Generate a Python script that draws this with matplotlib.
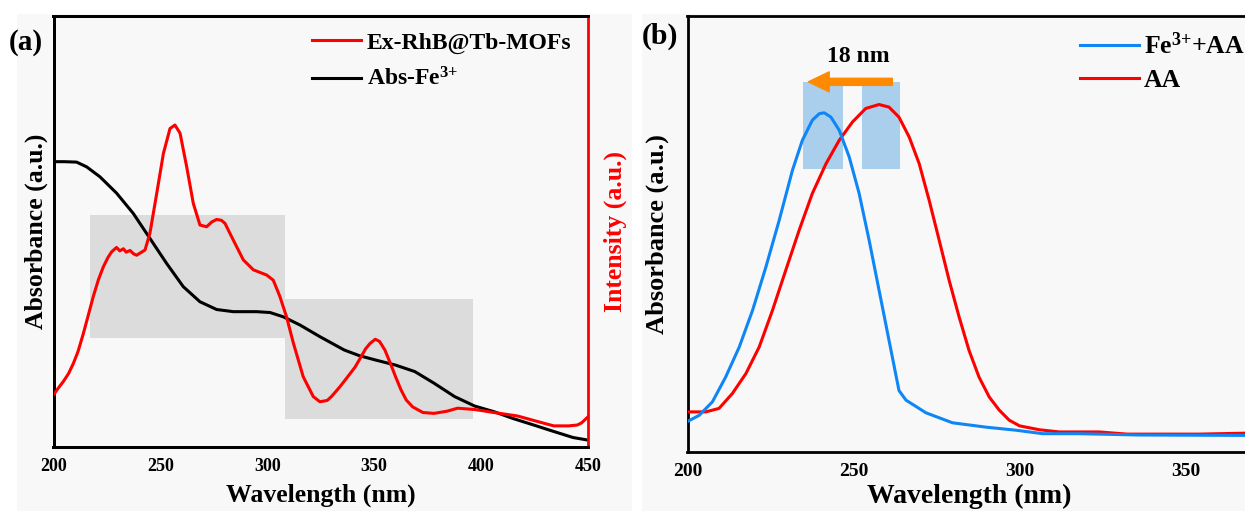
import matplotlib
matplotlib.use('Agg')
import matplotlib.pyplot as plt
from matplotlib.patches import Rectangle

plt.rcParams.update({
    'font.family': ['Liberation Serif', 'DejaVu Serif'],
    'font.weight': 'bold',
    'axes.labelweight': 'bold',
    'mathtext.fontset': 'custom',
    'mathtext.rm': 'Liberation Serif:bold',
    'mathtext.it': 'Liberation Serif:bold',
    'mathtext.bf': 'Liberation Serif:bold',
    'mathtext.default': 'rm',
})

# ---------------- data: panel (a) ----------------
abs_fe_wl = [200, 205, 210.8, 215.5, 221.7, 229.5, 237.3, 245.1, 252.9, 260.7, 268.5, 276.3,
             284.1, 295, 301.3, 307.5, 315.3, 324.6, 336, 343, 350.5, 360, 369, 378, 387.6,
             397, 406, 415, 424.6, 434, 443, 450]
abs_fe_val = [0.662, 0.662, 0.661, 0.650, 0.627, 0.589, 0.542, 0.484, 0.426, 0.372, 0.337,
              0.319, 0.314, 0.314, 0.312, 0.302, 0.283, 0.256, 0.225, 0.212, 0.202, 0.190,
              0.175, 0.148, 0.117, 0.095, 0.082, 0.066, 0.051, 0.036, 0.022, 0.016]

ex_wl = [200, 202, 204.6, 207, 209.3, 211.5, 214, 216.5, 218.6, 221, 223.3, 225.5, 227.2,
         229.5, 231, 232.7, 234, 235.8, 237.5, 238.9, 240.5, 242.8, 245.1, 248.3, 251.4, 254.5,
         256.8, 259.2, 262.3, 265.4, 268.5, 271.6, 274, 276.3, 278.5, 280.2, 284.1, 288.8,
         293.5, 299.7, 302.8, 305.9, 309, 312.2, 316.8, 321.5, 324.6, 328, 330, 334, 337.6,
         341, 343, 346, 348, 350.5, 352.5, 355, 357.5, 360, 362.5, 365, 368, 372.8, 378, 384,
         389, 397, 406, 417, 426.5, 434, 441, 445, 447, 450]
ex_val = [0.121, 0.135, 0.152, 0.170, 0.194, 0.222, 0.264, 0.310, 0.349, 0.388, 0.418, 0.440,
          0.453, 0.463, 0.455, 0.460, 0.452, 0.456, 0.448, 0.445, 0.450, 0.457, 0.496, 0.589,
          0.681, 0.739, 0.747, 0.728, 0.650, 0.565, 0.515, 0.511, 0.522, 0.528, 0.526, 0.519,
          0.480, 0.434, 0.411, 0.399, 0.387, 0.349, 0.302, 0.241, 0.163, 0.117, 0.105, 0.108,
          0.117, 0.140, 0.163, 0.185, 0.202, 0.228, 0.240, 0.250, 0.245, 0.225, 0.195, 0.163,
          0.133, 0.109, 0.093, 0.080, 0.078, 0.083, 0.090, 0.087, 0.080, 0.072, 0.059, 0.049,
          0.049, 0.051, 0.056, 0.070]

# ---------------- data: panel (b) ----------------
fe_aa_wl = [200, 203.5, 207.5, 211.5, 215.6, 219.6, 223.6, 227.6, 231.6, 234.6, 237.6, 239.7,
            241.2, 243.2, 245.7, 248.7, 251.7, 254.7, 257.7, 260.7, 263.7, 265.8, 271.8, 279.8,
            289.9, 298.9, 307, 318, 336, 370]
fe_aa_val = [0.070, 0.084, 0.115, 0.172, 0.241, 0.325, 0.424, 0.531, 0.646, 0.715, 0.761,
             0.776, 0.778, 0.768, 0.738, 0.677, 0.593, 0.486, 0.371, 0.256, 0.141, 0.119,
             0.090, 0.067, 0.057, 0.050, 0.042, 0.042, 0.039, 0.038]

aa_wl = [200, 205.5, 209.5, 213.5, 217.6, 221.6, 225.6, 229.6, 233.6, 237.6, 241.7, 245.7,
         249.7, 253.7, 257.7, 260.7, 263.7, 266.8, 269.8, 272.8, 275.8, 278.8, 281.8, 284.8,
         287.8, 290.9, 293.9, 296.9, 300, 306, 312, 324, 332.5, 354, 370]
aa_val = [0.092, 0.092, 0.100, 0.134, 0.180, 0.241, 0.325, 0.417, 0.508, 0.593, 0.661, 0.715,
          0.757, 0.788, 0.797, 0.791, 0.768, 0.722, 0.661, 0.577, 0.486, 0.394, 0.310, 0.233,
          0.172, 0.126, 0.096, 0.073, 0.060, 0.051, 0.046, 0.046, 0.041, 0.041, 0.0435]

xticks_a = [200, 250, 300, 350, 400, 450]
xticks_b = [200, 250, 300, 350]

# highlight regions (wavelength start, end, y bottom, y top)
regions_a = [(217.2, 308.5, 0.254, 0.538), (308.5, 396.1, 0.064, 0.343)]
regions_b = [(234.9, 246.7, 0.649, 0.849), (252.7, 264.1, 0.649, 0.849)]
shift_from, shift_to = 261.7, 236.4

RED = '#ff0000'
BLUE = '#0f86f5'
ORANGE = '#ff8a00'
LIGHTBLUE = '#a9cfec'
GRAY = '#dcdcdc'
BG = '#f8f8f8'

W, H = 1245, 511
fig = plt.figure(figsize=(W / 100, H / 100), dpi=100)
fig.patch.set_facecolor('white')


def fig_rect(x0, y0, x1, y1):
    return (x0 / W, 1 - y1 / H), (x1 - x0) / W, (y1 - y0) / H


for (x0, y0, x1, y1) in [(16.7, 14, 631.7, 511), (641.7, 14, 1245, 511)]:
    xy, w, h = fig_rect(x0, y0, x1, y1)
    fig.add_artist(Rectangle(xy, w, h, transform=fig.transFigure, facecolor=BG,
                             edgecolor='none', zorder=-10))

LW = 2.2
SPW = 2.0

# ---------------- panel (a) ----------------
ax = fig.add_axes([53.5 / W, (H - 447) / H, 534.5 / W, 431 / H])
ax.set_facecolor('none')
for (x0, x1, y0, y1) in regions_a:
    ax.add_patch(Rectangle((x0, y0), x1 - x0, y1 - y0, facecolor=GRAY, edgecolor='none', zorder=0))
ax.plot(abs_fe_wl, abs_fe_val, color='black', lw=LW, zorder=3)
ax.set_xlim(200, 450)
ax.set_ylim(0, 1)
ax.set_xticks(xticks_a)
ax.set_yticks([])
ax.tick_params(axis='x', length=0, pad=8, labelsize=13)
for s in ax.spines.values():
    s.set_linewidth(SPW)
ax.spines['right'].set_visible(False)
ax.set_xlabel('Wavelength (nm)', fontsize=18.5)
ax.xaxis.set_label_coords(0.5, -0.085)
ax.set_ylabel('Absorbance (a.u.)', fontsize=18.5)
ax.yaxis.set_label_coords(-0.010, 0.5)

ax2 = ax.twinx()
ax2.plot(ex_wl, ex_val, color=RED, lw=LW, zorder=3)
ax2.set_ylim(0, 1)
ax2.set_yticks([])
for s in ax2.spines.values():
    s.set_linewidth(SPW)
ax2.spines['right'].set_color(RED)
ax2.set_ylabel('Intensity (a.u.)', fontsize=18.5, color=RED)
ax2.yaxis.set_label_coords(1.03, 0.5)

la = ax.plot([], [], color=RED, lw=LW, label='Ex-RhB@Tb-MOFs')[0]
lb = ax.plot([], [], color='black', lw=LW, label='Abs-Fe$^{3{+}}$')[0]
ax2.legend(handles=[la, lb], loc='upper left', bbox_to_anchor=(0.484, 0.963),
           frameon=False, fontsize=17, handlelength=2.05, handletextpad=0.25,
           labelspacing=0.6, borderpad=0, borderaxespad=0)
fig.text(9 / W, 1 - 42 / H, '(a)', fontsize=21, fontweight='bold', va='center', ha='left')

# ---------------- panel (b) ----------------
bx = fig.add_axes([687.5 / W, (H - 452) / H, 564.4 / W, 436 / H])
bx.set_facecolor('none')
for (x0, x1, y0, y1) in regions_b:
    bx.add_patch(Rectangle((x0, y0), x1 - x0, y1 - y0, facecolor=LIGHTBLUE, edgecolor='none', zorder=0))
bx.plot(aa_wl, aa_val, color=RED, lw=LW, zorder=3, label='AA')
bx.plot(fe_aa_wl, fe_aa_val, color=BLUE, lw=LW, zorder=4, label='Fe$^{3{+}}$+AA')
bx.annotate('', xy=(shift_to, 0.849), xytext=(shift_from, 0.849),
            arrowprops=dict(arrowstyle='simple,head_width=0.96,head_length=1.0,tail_width=0.34',
                            mutation_scale=15, color=ORANGE, shrinkA=0, shrinkB=0), zorder=5)
bx.text((shift_from + shift_to) / 2 + 2.5, 0.906, '18 nm', fontsize=17, fontweight='bold',
        ha='center', va='center')
bx.set_xlim(200, 370)
bx.set_ylim(0, 1)
bx.set_xticks(xticks_b)
bx.set_yticks([])
bx.tick_params(axis='x', length=0, pad=8, labelsize=14)
for s in bx.spines.values():
    s.set_linewidth(SPW)
bx.set_xlabel('Wavelength (nm)', fontsize=20)
bx.xaxis.set_label_coords(0.5, -0.072)
bx.set_ylabel('Absorbance (a.u.)', fontsize=19)
bx.yaxis.set_label_coords(-0.032, 0.5)
h, l = bx.get_legend_handles_labels()
bx.legend(handles=[h[1], h[0]], labels=[l[1], l[0]], loc='upper left',
          bbox_to_anchor=(0.696, 0.962), frameon=False, fontsize=18.5, handlelength=2.3,
          handletextpad=0.18, labelspacing=0.4, borderpad=0, borderaxespad=0)
fig.text(642 / W, 1 - 36 / H, '(b)', fontsize=21.5, fontweight='bold', va='center', ha='left')

fig.savefig('out.png', dpi=100, facecolor=fig.get_facecolor())
